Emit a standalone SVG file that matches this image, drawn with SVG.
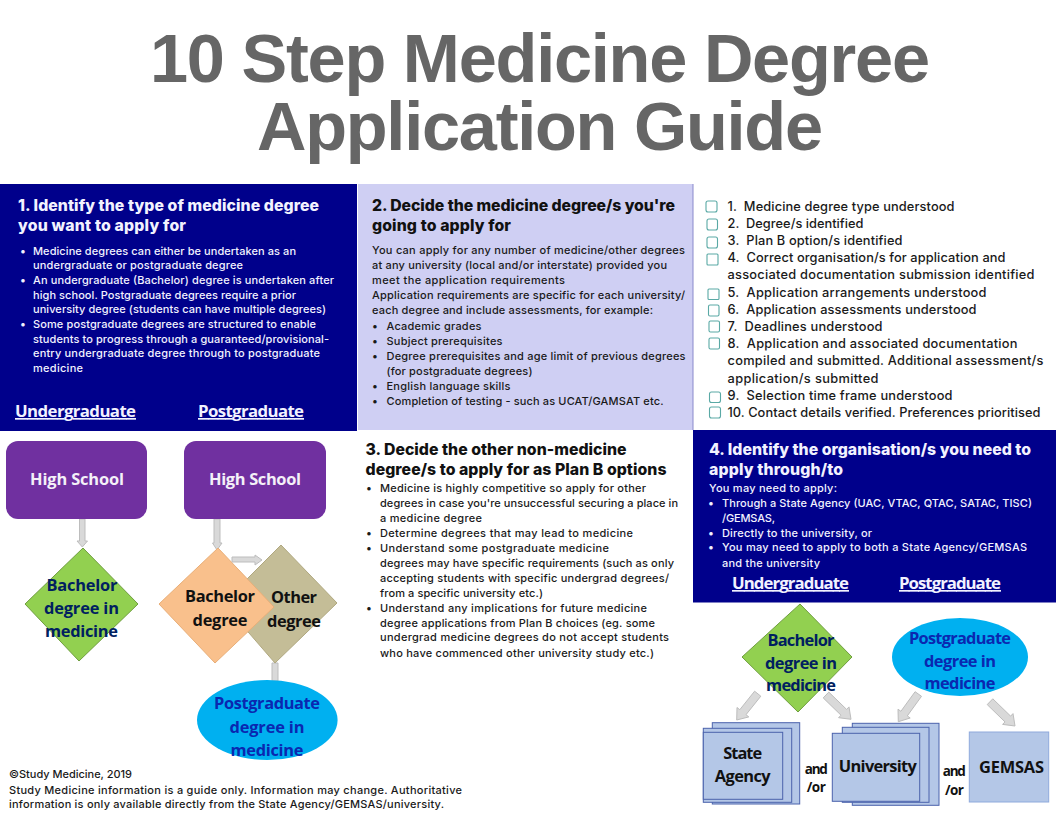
<svg xmlns="http://www.w3.org/2000/svg" width="1056" height="816" viewBox="0 0 1056 816">
<style>
text{font-family:"Inter","Liberation Sans",sans-serif}
.t{font-family:"Liberation Sans",Arial,sans-serif;font-weight:700;font-size:68.5px;fill:#666}
.h{font-weight:800;font-size:15.8px;fill:#111}
.b{font-weight:500;font-size:11px;fill:#1a1a1a}
.w{fill:#f2f2ff}
.o{font-family:"Open Sans","Liberation Sans",sans-serif;font-weight:700}
.u{font-size:16.8px;fill:#f2f2ff;text-decoration:underline}
.n{font-size:16.4px;text-anchor:middle}
.bn{fill:#002060}
.bl{fill:#0a28b0}
.k{fill:#111}
.c{font-size:12.8px}
.ck{fill:none;stroke:#5aa9a5;stroke-width:1.1}
.a{fill:#d9d9d9;stroke:#bdbdbd;stroke-width:1}
.s{fill:#b4c7e7;stroke:#4a62ac;stroke-width:1}
.ao{font-size:13.5px;text-anchor:middle}
</style>
<rect width="1056" height="816" fill="#fff"/>
<g id="title">
<text class="t" x="150" y="82" textLength="780">10 Step Medicine Degree</text>
<text class="t" x="257" y="150" textLength="566">Application Guide</text>
</g>
<g id="panel1">
<rect x="0" y="184" width="357" height="247" fill="#00008b"/>
<text class="h w" x="18" y="211" textLength="301">1. Identify the type of medicine degree</text>
<text class="h w" x="18" y="231" textLength="168">you want to apply for</text>
<text class="b w" x="20" y="255">•</text><text class="b w" x="33" y="255" textLength="263">Medicine degrees can either be undertaken as an</text>
<text class="b w" x="33" y="269" textLength="210">undergraduate or postgraduate degree</text>
<text class="b w" x="20" y="284">•</text><text class="b w" x="33" y="284" textLength="301">An undergraduate (Bachelor) degree is undertaken after</text>
<text class="b w" x="33" y="299" textLength="263">high school. Postgraduate degrees require a prior</text>
<text class="b w" x="33" y="313" textLength="293">university degree (students can have multiple degrees)</text>
<text class="b w" x="20" y="328">•</text><text class="b w" x="33" y="328" textLength="283">Some postgraduate degrees are structured to enable</text>
<text class="b w" x="33" y="343" textLength="296">students to progress through a guaranteed/provisional-</text>
<text class="b w" x="33" y="357" textLength="287">entry undergraduate degree through to postgraduate</text>
<text class="b w" x="33" y="372" textLength="50">medicine</text>
<text class="o u" x="15" y="417" textLength="121">Undergraduate</text>
<text class="o u" x="198" y="417" textLength="106">Postgraduate</text>
</g>
<g id="panel2">
<rect x="358" y="184" width="335" height="246" fill="#cfcff3"/>
<rect x="692.500" y="184" width="1" height="246" fill="#8a8acb"/>
<text class="h" x="372" y="211" textLength="303">2. Decide the medicine degree/s you're</text>
<text class="h" x="372" y="231" textLength="139">going to apply for</text>
<text class="b" x="372" y="254" textLength="313">You can apply for any number of medicine/other degrees</text>
<text class="b" x="372" y="269" textLength="295">at any university (local and/or interstate) provided you</text>
<text class="b" x="372" y="284" textLength="193">meet the application requirements</text>
<text class="b" x="372" y="299" textLength="313">Application requirements are specific for each university/</text>
<text class="b" x="372" y="314" textLength="281">each degree and include assessments, for example:</text>
<text class="b" x="372" y="330">•</text><text class="b" x="386.500" y="330" textLength="95">Academic grades</text>
<text class="b" x="372" y="345">•</text><text class="b" x="386.500" y="345" textLength="116">Subject prerequisites</text>
<text class="b" x="372" y="360">•</text><text class="b" x="386.500" y="360" textLength="299">Degree prerequisites and age limit of previous degrees</text>
<text class="b" x="386.500" y="375" textLength="146">(for postgraduate degrees)</text>
<text class="b" x="372" y="390">•</text><text class="b" x="386.500" y="390" textLength="124">English language skills</text>
<text class="b" x="372" y="405">•</text><text class="b" x="386.500" y="405" textLength="277">Completion of testing - such as UCAT/GAMSAT etc.</text>
</g>
<g id="panel3">
<text class="h" x="365.500" y="455" textLength="261">3. Decide the other non-medicine</text>
<text class="h" x="365.500" y="475" textLength="301">degree/s to apply for as Plan B options</text>
<text class="b" x="366" y="492">•</text><text class="b" x="380" y="492" textLength="266">Medicine is highly competitive so apply for other</text>
<text class="b" x="380" y="507" textLength="298">degrees in case you're unsuccessful securing a place in</text>
<text class="b" x="380" y="522" textLength="102">a medicine degree</text>
<text class="b" x="366" y="537">•</text><text class="b" x="380" y="537" textLength="253">Determine degrees that may lead to medicine</text>
<text class="b" x="366" y="552">•</text><text class="b" x="380" y="552" textLength="229">Understand some postgraduate medicine</text>
<text class="b" x="380" y="567" textLength="294">degrees may have specific requirements (such as only</text>
<text class="b" x="380" y="582" textLength="289">accepting students with specific undergrad degrees/</text>
<text class="b" x="380" y="597" textLength="163">from a specific university etc.)</text>
<text class="b" x="366" y="612">•</text><text class="b" x="380" y="612" textLength="267">Understand any implications for future medicine</text>
<text class="b" x="380" y="627" textLength="275">degree applications from Plan B choices (eg. some</text>
<text class="b" x="380" y="641" textLength="289">undergrad medicine degrees do not accept students</text>
<text class="b" x="380" y="657" textLength="274">who have commenced other university study etc.)</text>
</g>
<g id="checklist">
<rect class="ck" x="706" y="201" width="11" height="11" rx="2"/>
<rect class="ck" x="707" y="219" width="10.500" height="11" rx="2"/>
<rect class="ck" x="707" y="237" width="10.500" height="11" rx="2"/>
<rect class="ck" x="707" y="254" width="11" height="11" rx="1"/>
<rect class="ck" x="708" y="289" width="11" height="10.500" rx="1"/>
<rect class="ck" x="708.500" y="305" width="10.500" height="11" rx="1.500"/>
<rect class="ck" x="709" y="321" width="10.500" height="11" rx="1.500"/>
<rect class="ck" x="709" y="338" width="10.500" height="11" rx="1.500"/>
<rect class="ck" x="709.500" y="392" width="11" height="10.500" rx="2"/>
<rect class="ck" x="709.500" y="407" width="11" height="11" rx="2"/>
<text class="b c" x="727.500" y="211" textLength="227" xml:space="preserve">1.  Medicine degree type understood</text>
<text class="b c" x="727.500" y="228" textLength="136" xml:space="preserve">2.  Degree/s identified</text>
<text class="b c" x="727.500" y="245" textLength="175" xml:space="preserve">3.  Plan B option/s identified</text>
<text class="b c" x="727.500" y="262" textLength="278" xml:space="preserve">4.  Correct organisation/s for application and</text>
<text class="b c" x="727.500" y="279" textLength="307">associated documentation submission identified</text>
<text class="b c" x="727.500" y="297" textLength="259" xml:space="preserve">5.  Application arrangements understood</text>
<text class="b c" x="727.500" y="314" textLength="249" xml:space="preserve">6.  Application assessments understood</text>
<text class="b c" x="727.500" y="331" textLength="155" xml:space="preserve">7.  Deadlines understood</text>
<text class="b c" x="727.500" y="348" textLength="290" xml:space="preserve">8.  Application and associated documentation</text>
<text class="b c" x="727.500" y="365" textLength="316">compiled and submitted. Additional assessment/s</text>
<text class="b c" x="727.500" y="383" textLength="151">application/s submitted</text>
<text class="b c" x="727.500" y="400" textLength="225" xml:space="preserve">9.  Selection time frame understood</text>
<text class="b c" x="727.500" y="417" textLength="313">10. Contact details verified. Preferences prioritised</text>
</g>
<g id="panel4">
<rect x="693" y="430" width="363" height="172.500" fill="#00008b"/>
<text class="h w" x="709" y="455" textLength="322">4. Identify the organisation/s you need to</text>
<text class="h w" x="709" y="475" textLength="134">apply through/to</text>
<text class="b w" x="709" y="492" textLength="128">You may need to apply:</text>
<text class="b w" x="708" y="507">•</text><text class="b w" x="722" y="507" textLength="310">Through a State Agency (UAC, VTAC, QTAC, SATAC, TISC)</text>
<text class="b w" x="722" y="522" textLength="53">/GEMSAS,</text>
<text class="b w" x="708" y="537">•</text><text class="b w" x="722" y="537" textLength="150">Directly to the university, or</text>
<text class="b w" x="708" y="551">•</text><text class="b w" x="722" y="551" textLength="305">You may need to apply to both a State Agency/GEMSAS</text>
<text class="b w" x="722" y="567" textLength="98">and the university</text>
<text class="o u" x="732" y="589" textLength="117">Undergraduate</text>
<text class="o u" x="899" y="589" textLength="102">Postgraduate</text>
</g>
<g id="connectors">
<polygon class="a" points="79.500,519 85,519 85,541 87.500,541 82.300,547 77,541 79.500,541"/>
<polygon class="a" points="214,519 220,519 220,543 222,543 217,550 212.500,543 214,543"/>
<polygon class="a" points="232,557 255,557 255,555 262,560 255,565 255,562 232,562"/>
<polygon class="a" points="272,663 278,663 278,681 272,681"/>
<polygon class="a" points="760.800,696.200 746,714.700 748.800,716.900 736.700,720 737,707.500 739.800,709.700 754.600,691.200"/>
<polygon class="a" points="823.200,697.900 841,715.200 838.600,717.700 851,719.300 849,706.900 846.600,709.400 828.800,692.100"/>
<polygon class="a" points="921.500,696.300 907.300,715.900 910.200,718 898.300,721.700 898,709.200 900.900,711.300 915.100,691.700"/>
<polygon class="a" points="987.200,704.600 1005,721.900 1002.600,724.400 1015,726 1013,713.600 1010.600,716.100 992.800,698.800"/>
</g>
<g id="ug-highschool">
<rect x="6" y="441" width="141" height="78" rx="12" fill="#7030a0"/>
<text class="o n" x="77" y="485" fill="#f4f0f8" textLength="94">High School</text>
</g>
<g id="ug-bachelor">
<polygon points="83,548 138,604 79,661 25,604" fill="#92d050" stroke="#6f9e3f"/>
<text class="o n bn" x="82" y="591" textLength="71">Bachelor</text>
<text class="o n bn" x="81.500" y="614" textLength="75">degree in</text>
<text class="o n bn" x="81.500" y="637" textLength="73">medicine</text>
</g>
<g id="pg-highschool">
<rect x="184" y="441" width="142" height="78" rx="12" fill="#7030a0"/>
<text class="o n" x="255" y="485" fill="#f4f0f8" textLength="92">High School</text>
</g>
<g id="pg-other">
<polygon points="281,545 337,603 275,663 223,603" fill="#c4bd97" stroke="#b0a880"/>
<text class="o n k" x="294" y="603" textLength="46">Other</text>
<text class="o n k" x="294" y="627" textLength="54">degree</text>
</g>
<g id="pg-bachelor">
<polygon points="218,548 274,607 215,663 159,604" fill="#f9c08c" stroke="#e8ae78"/>
<text class="o n k" x="220" y="602" textLength="70">Bachelor</text>
<text class="o n k" x="220" y="626" textLength="55">degree</text>
</g>
<g id="pg-medicine">
<ellipse cx="267.300" cy="720" rx="70.300" ry="40" fill="#00b0f0"/>
<text class="o n bl" x="267" y="709" textLength="106">Postgraduate</text>
<text class="o n bl" x="267" y="733" textLength="75">degree in</text>
<text class="o n bl" x="267" y="756" textLength="73">medicine</text>
</g>
<g id="app-bachelor">
<polygon points="800,604 852,657 798,712 742,657" fill="#92d050" stroke="#6f9e3f"/>
<text class="o n bn" x="801" y="646" textLength="67">Bachelor</text>
<text class="o n bn" x="801" y="669" textLength="72">degree in</text>
<text class="o n bn" x="801" y="691" textLength="70">medicine</text>
</g>
<g id="app-postgraduate">
<ellipse cx="960" cy="657" rx="68" ry="39" fill="#00b0f0"/>
<text class="o n bl" x="960" y="644" textLength="102">Postgraduate</text>
<text class="o n bl" x="960" y="667" textLength="72">degree in</text>
<text class="o n bl" x="960" y="689" textLength="71">medicine</text>
</g>
<g id="state-agency">
<rect class="s" x="712.300" y="722.700" width="87.400" height="81.300"/>
<rect class="s" x="703.300" y="728.300" width="88.400" height="74"/>
<rect class="s" x="703.300" y="732.300" width="79.400" height="67"/>
<text class="o n k" x="742.700" y="759" textLength="39">State</text>
<text class="o n k" x="742.700" y="782" textLength="56">Agency</text>
</g>
<g id="and-or-1">
<text class="o k ao" x="816.300" y="774" textLength="23">and</text>
<text class="o k ao" x="816.300" y="792" textLength="19">/or</text>
</g>
<g id="university">
<rect class="s" x="852.300" y="723.300" width="86.700" height="82"/>
<rect class="s" x="842.300" y="727.300" width="86.700" height="75"/>
<rect class="s" x="832.300" y="733.300" width="87.400" height="68"/>
<text class="o n k" x="877.800" y="772" textLength="78">University</text>
</g>
<g id="and-or-2">
<text class="o k ao" x="954.300" y="776" textLength="23">and</text>
<text class="o k ao" x="954.500" y="795" textLength="19">/or</text>
</g>
<g id="gemsas">
<rect x="969.300" y="732" width="79.400" height="70" fill="#b4c7e7" stroke="#8faadc"/>
<text class="o n k" x="1011.500" y="773" textLength="65">GEMSAS</text>
</g>
<g id="footer">
<text class="b" x="9" y="778" textLength="123">©Study Medicine, 2019</text>
<text class="b" x="9" y="794" textLength="453">Study Medicine information is a guide only. Information may change. Authoritative</text>
<text class="b" x="9" y="808" textLength="435">information is only available directly from the State Agency/GEMSAS/university.</text>
</g>
</svg>
